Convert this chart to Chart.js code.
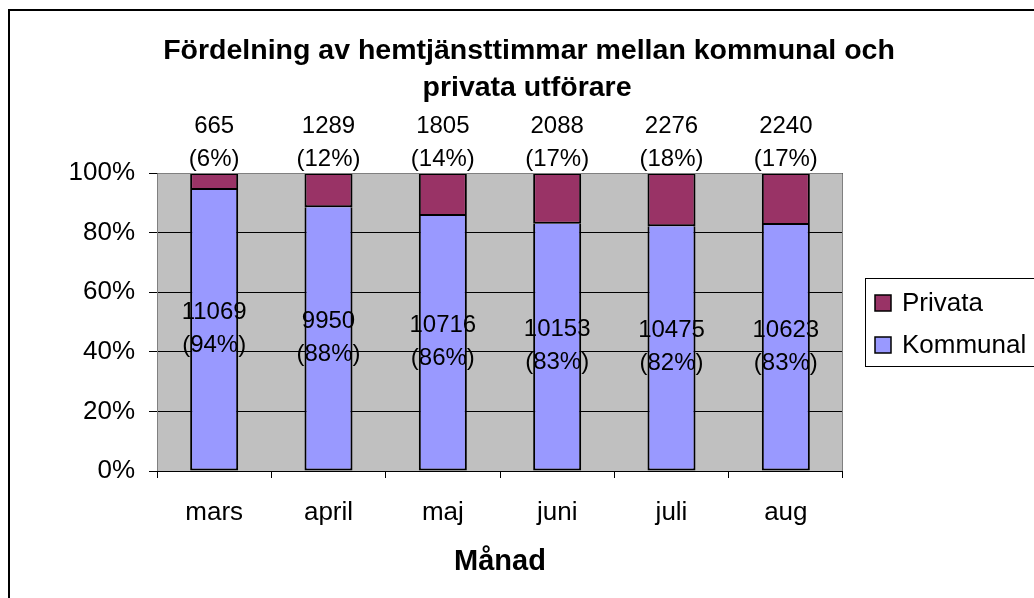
<!DOCTYPE html>
<html>
<head>
<meta charset="utf-8">
<script src="https://cdn.jsdelivr.net/npm/chart.js@4"></script>
<style>
html,body{margin:0;padding:0;background:#fff;}
#wrap{width:1034px;height:598px;position:relative;}
</style>
</head>
<body>
<div id="wrap"><canvas id="c" width="1034" height="598"></canvas></div>
<script>
const categories = ['mars', 'april', 'maj', 'juni', 'juli', 'aug'];
const kommunalValues = [11069, 9950, 10716, 10153, 10475, 10623];
const privataValues = [665, 1289, 1805, 2088, 2276, 2240];
const kommunalPctLabels = [94, 88, 86, 83, 82, 83];
const privataPctLabels = [6, 12, 14, 17, 18, 17];
const yTicks = [0, 20, 40, 60, 80, 100];
const titleLines = ['Fördelning av hemtjänsttimmar mellan kommunal och', 'privata utförare'];
const xTitle = 'Månad';

const totals = kommunalValues.map((k, i) => k + privataValues[i]);
const kommunalShare = kommunalValues.map((k, i) => k / totals[i] * 100);
const privataShare = privataValues.map((p, i) => p / totals[i] * 100);

const FONT = 'Arial, "Liberation Sans", sans-serif';

const decor = {
  id: 'decor',
  beforeDraw(chart) {
    const {ctx, chartArea: a} = chart;
    ctx.save();
    ctx.fillStyle = '#fff';
    ctx.fillRect(0, 0, chart.width, chart.height);
    ctx.fillStyle = '#c0c0c0';
    ctx.fillRect(a.left, a.top, a.right - a.left, a.bottom - a.top);
    ctx.restore();
  },
  afterDatasetsDraw(chart) {
    const {ctx, chartArea: a} = chart;
    ctx.save();
    ctx.strokeStyle = '#808080';
    ctx.lineWidth = 1;
    ctx.beginPath();
    ctx.moveTo(a.left + 0.5, a.bottom);
    ctx.lineTo(a.left + 0.5, a.top + 0.5);
    ctx.lineTo(a.right - 0.5, a.top + 0.5);
    ctx.lineTo(a.right - 0.5, a.bottom);
    ctx.stroke();
    ctx.strokeStyle = '#000';
    ctx.beginPath();
    ctx.moveTo(a.left, a.bottom + 0.5);
    ctx.lineTo(a.right, a.bottom + 0.5);
    ctx.stroke();

    ctx.fillStyle = '#000';
    ctx.font = '24px ' + FONT;
    ctx.textAlign = 'center';
    ctx.textBaseline = 'middle';
    const mK = chart.getDatasetMeta(0);
    const mP = chart.getDatasetMeta(1);
    mK.data.forEach((bar, i) => {
      const cy = (bar.y + bar.base) / 2 - 1;
      ctx.fillText(String(kommunalValues[i]), bar.x, cy - 16.5);
      ctx.fillText('(' + kommunalPctLabels[i] + '%)', bar.x, cy + 16.5);
    });
    mP.data.forEach((bar, i) => {
      const top = Math.min(bar.y, bar.base);
      ctx.fillText(String(privataValues[i]), bar.x, top - 47);
      ctx.fillText('(' + privataPctLabels[i] + '%)', bar.x, top - 14);
    });
    ctx.restore();
  },
  afterDraw(chart) {
    const {ctx} = chart;
    ctx.save();
    ctx.strokeStyle = '#000';
    ctx.lineWidth = 2;
    ctx.beginPath();
    ctx.moveTo(9, chart.height + 5);
    ctx.lineTo(9, 10);
    ctx.lineTo(chart.width + 5, 10);
    ctx.stroke();

    ctx.fillStyle = '#000';
    ctx.font = 'bold 28.5px ' + FONT;
    ctx.textAlign = 'center';
    ctx.textBaseline = 'middle';
    ctx.fillText(titleLines[0], 529, 51);
    ctx.fillText(titleLines[1], 527, 88);

    const lx = 865, ly = 278, lw = 185, lh = 88;
    ctx.fillStyle = '#fff';
    ctx.fillRect(lx, ly, lw, lh);
    ctx.strokeStyle = '#000';
    ctx.lineWidth = 1;
    ctx.strokeRect(lx + 0.5, ly + 0.5, lw, lh);
    const items = [chart.data.datasets[1], chart.data.datasets[0]];
    const ys = [303, 345];
    ctx.font = '26px ' + FONT;
    ctx.textAlign = 'left';
    items.forEach((ds, k) => {
      ctx.fillStyle = ds.backgroundColor;
      ctx.fillRect(875, ys[k] - 8, 16, 16);
      ctx.strokeStyle = '#000';
      ctx.lineWidth = 1.5;
      ctx.strokeRect(875, ys[k] - 8, 16, 16);
      ctx.fillStyle = '#000';
      ctx.fillText(ds.label, 902, ys[k] + 1);
    });
    ctx.restore();
  }
};

new Chart(document.getElementById('c'), {
  type: 'bar',
  data: {
    labels: categories,
    datasets: [
      {
        label: 'Kommunal',
        data: kommunalShare,
        backgroundColor: '#9999ff',
        borderColor: '#000',
        borderWidth: 2,
        borderSkipped: 'top',
        barPercentage: 0.84,
        categoryPercentage: 0.5
      },
      {
        label: 'Privata',
        data: privataShare,
        backgroundColor: '#993366',
        borderColor: '#000',
        borderWidth: 2,
        borderSkipped: false,
        barPercentage: 0.84,
        categoryPercentage: 0.5
      }
    ]
  },
  options: {
    responsive: false,
    animation: false,
    events: [],
    layout: {padding: {left: 0, right: 191, top: 173, bottom: 0}},
    plugins: {
      legend: {display: false},
      title: {display: false},
      tooltip: {enabled: false}
    },
    scales: {
      x: {
        stacked: true,
        offset: true,
        afterFit(s) { s.height = 127; },
        grid: {
          drawOnChartArea: false,
          drawTicks: true,
          tickLength: 7,
          color: '#000',
          offset: true
        },
        border: {display: false},
        ticks: {
          color: '#000',
          font: {family: FONT, size: 26},
          padding: 19
        },
        title: {
          display: true,
          text: xTitle,
          color: '#000',
          font: {family: FONT, size: 29, weight: 'bold'},
          padding: {top: 0, bottom: 19}
        }
      },
      y: {
        stacked: true,
        min: 0,
        max: 100,
        afterFit(s) { s.width = 157; },
        afterBuildTicks(s) { s.ticks = yTicks.map(v => ({value: v})); },
        grid: {
          color: '#000',
          lineWidth: 1,
          drawTicks: true,
          tickLength: 8
        },
        border: {display: false},
        ticks: {
          color: '#000',
          font: {family: FONT, size: 26},
          padding: 14,
          callback: v => v + '%'
        }
      }
    }
  },
  plugins: [decor]
});
</script>
</body>
</html>
